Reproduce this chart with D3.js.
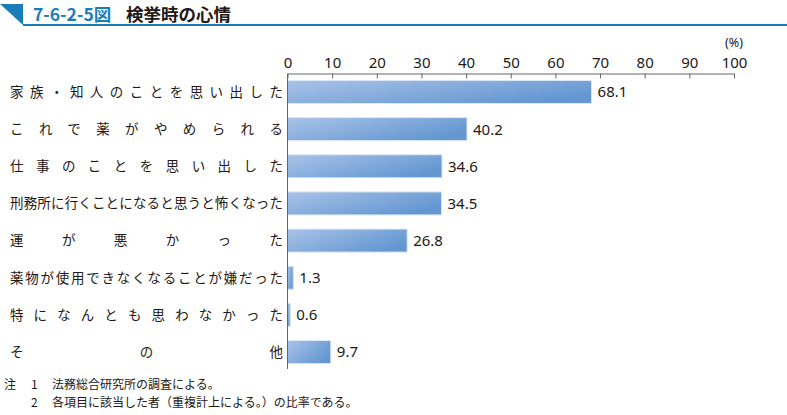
<!DOCTYPE html>
<html><head><meta charset="utf-8">
<script src="https://cdn.jsdelivr.net/npm/d3@7"></script>
<style>body{margin:0;background:#fff}svg{display:block}</style>
</head><body>
<svg id="c" width="787" height="415"></svg>
<script>
const categories = ["家族・知人のことを思い出した","これで薬がやめられる","仕事のことを思い出した","刑務所に行くことになると思うと怖くなった","運が悪かった","薬物が使用できなくなることが嫌だった","特になんとも思わなかった","その他"];
const values = [68.1,40.2,34.6,34.5,26.8,1.3,0.6,9.7];
const valueLabels = ["68.1","40.2","34.6","34.5","26.8","1.3","0.6","9.7"];
const xTicks = [0,10,20,30,40,50,60,70,80,90,100];
const titleNum = "7-6-2-5図";
const titleText = "検挙時の心情";
const notes = [["注","1","法務総合研究所の調査による。"],["","2","各項目に該当した者（重複計上による。）の比率である。"]];

const svg = d3.select("#c");
const font = "'Noto Sans CJK JP','Noto Sans',sans-serif";
const numFont = "'Noto Sans','Open Sans',sans-serif";
const blue = "#1a7db9";

// title
svg.append("path").attr("d","M0,4 L23,4 L23,25 Z").attr("fill",blue);
svg.append("rect").attr("x",23).attr("y",24).attr("width",764).attr("height",2).attr("fill",blue);
svg.append("text").attr("x",33).attr("y",21).attr("font-family",font).attr("font-weight","bold")
  .attr("font-size",17.5).attr("fill",blue).text(titleNum);
svg.append("text").attr("x",126).attr("y",21).attr("font-family",font).attr("font-weight","bold")
  .attr("font-size",17.5).attr("fill","#231815").text(titleText);

const x = d3.scaleLinear().domain([0,100]).range([287.5,734]);
const y = d3.scaleBand().domain(categories).range([73,371]).paddingInner(0.38).paddingOuter(0.2);

// gradient
const defs = svg.append("defs");
const g = defs.append("linearGradient").attr("id","bg").attr("x1","0").attr("y1","0").attr("x2","1").attr("y2","0.6");
g.append("stop").attr("offset","0%").attr("stop-color","#a9c3e8");
g.append("stop").attr("offset","100%").attr("stop-color","#6497d1");

// bars
svg.append("g").selectAll("rect").data(values).join("rect")
  .attr("x",x(0)).attr("y",(d,i)=>y(categories[i]))
  .attr("width",d=>x(d)-x(0)).attr("height",y.bandwidth())
  .attr("fill","url(#bg)").attr("stroke","#dce8f6").attr("stroke-width",1);

// value labels
svg.append("g").selectAll("text").data(values).join("text")
  .attr("x",d=>x(d)+6).attr("y",(d,i)=>y(categories[i])+y.bandwidth()/2)
  .attr("dy","0.36em").attr("font-family",numFont).attr("font-size",15).attr("fill","#231815")
  .text((d,i)=>valueLabels[i]);

// category labels (justified)
svg.append("g").selectAll("text").data(categories).join("text")
  .attr("x",10).attr("y",d=>y(d)+y.bandwidth()/2).attr("dy","0.36em")
  .attr("font-family",font).attr("font-size",13.5).attr("fill","#231815")
  .attr("textLength",273).attr("lengthAdjust","spacing").text(d=>d);

// x axis
const ax = svg.append("g").attr("transform",`translate(0,${73.5})`)
  .call(d3.axisTop(x).tickValues(xTicks).tickSizeInner(-5).tickSizeOuter(0).tickPadding(6));
ax.select(".domain").attr("stroke","#666");
ax.selectAll(".tick line").attr("stroke","#666");
ax.selectAll(".tick text").attr("font-family",numFont).attr("font-size",15).attr("fill","#231815");
svg.append("text").attr("x",734).attr("y",47).attr("text-anchor","middle").attr("font-family",numFont)
  .attr("font-size",12.5).attr("fill","#231815").text("(%)");
// y axis line
svg.append("line").attr("x1",x(0)).attr("x2",x(0)).attr("y1",73.5).attr("y2",369).attr("stroke","#666");

// notes
notes.forEach((n,i)=>{
  const yy = 389 + i*18;
  const t = svg.append("g").attr("font-family",font).attr("font-size",12).attr("fill","#231815");
  t.append("text").attr("x",4).attr("y",yy).text(n[0]);
  t.append("text").attr("x",31).attr("y",yy).text(n[1]);
  t.append("text").attr("x",52).attr("y",yy).text(n[2]);
});
</script>
</body></html>
